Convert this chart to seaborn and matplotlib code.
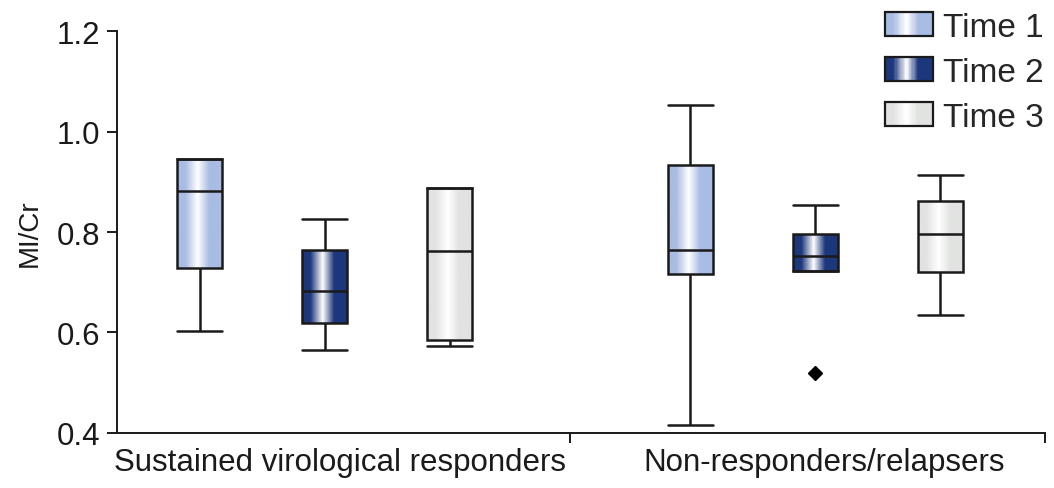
import matplotlib
matplotlib.use("Agg")
import matplotlib.pyplot as plt
from matplotlib.colors import LinearSegmentedColormap
from matplotlib.legend_handler import HandlerBase
from matplotlib.patches import Rectangle
from matplotlib.transforms import ScaledTranslation
import numpy as np
import pandas as pd
import seaborn as sns

# values (5 points per box: min, Q1, median, Q3, max)
groups = ["Sustained virological responders", "Non-responders/relapsers"]
times = ["Time 1", "Time 2", "Time 3"]
svr_t1 = [0.602, 0.728, 0.882, 0.945, 0.945]
svr_t2 = [0.566, 0.618, 0.683, 0.764, 0.825]
svr_t3 = [0.574, 0.586, 0.763, 0.888, 0.888]
nr_t1 = [0.416, 0.716, 0.764, 0.934, 1.053]
nr_t2 = [0.519, 0.723, 0.752, 0.797, 0.853]
nr_t3 = [0.634, 0.720, 0.797, 0.861, 0.913]
y_ticks = [0.4, 0.6, 0.8, 1.0, 1.2]

box_colors = ["#a9bce4", "#1d377c", "#e1e3e1"]

rows = []
for g, series in zip(groups, [[svr_t1, svr_t2, svr_t3], [nr_t1, nr_t2, nr_t3]]):
    for t, vals in zip(times, series):
        for v in vals:
            rows.append({"group": g, "time": t, "MI/Cr": v})
df = pd.DataFrame(rows)

sns.set_style("ticks")
plt.rcParams["font.family"] = ["Liberation Sans", "DejaVu Sans"]
ink = "#1a1a1a"

fig = plt.figure(figsize=(10.54, 4.89), dpi=100)
ax = fig.add_axes([0.111, 0.1125, 0.8805, 0.822])

sns.boxplot(data=df, x="group", y="MI/Cr", hue="time", hue_order=times,
            order=groups, palette=box_colors, width=0.765, gap=0.64,
            linecolor=ink, linewidth=1.8, legend=False, ax=ax,
            flierprops=dict(marker="D", markersize=7, markerfacecolor="black",
                            markeredgecolor="black"))


def make_cmap(c):
    return LinearSegmentedColormap.from_list(
        "g", [(0, c), (0.18, c), (0.45, "white"), (0.7, c), (1, c)])


cmaps = [make_cmap(c) for c in box_colors]
grad = np.linspace(0, 1, 200).reshape(1, -1)

# gradient fill inside each box
for i, cont in enumerate(ax.containers):
    w = None
    for box in cont.boxes:
        v = box.get_path().vertices
        x0, x1 = v[:, 0].min(), v[:, 0].max()
        y0, y1 = v[:, 1].min(), v[:, 1].max()
        w = x1 - x0
        im = ax.imshow(grad, cmap=cmaps[i], extent=[x0, x1, y0, y1],
                       aspect="auto", zorder=box.get_zorder() - 0.01,
                       interpolation="bilinear")
        im.set_clip_path(box)
        box.set_facecolor("none")
    for cap in cont.caps:
        c = np.asarray(cap.get_xdata(), dtype=float).mean()
        cap.set_xdata([c - w / 2, c + w / 2])

xmax = 1.469
ax.set_xlim(-0.424, xmax)
ax.set_ylim(0.4, 1.2)
ax.set_yticks(y_ticks)
ax.set_yticklabels([f"{t:.1f}" for t in y_ticks])
ax.set_xticks([0, 1])
ax.set_xticklabels(groups)
ax.set_xticks([0.5, xmax], minor=True)
ax.tick_params(axis="x", which="major", length=0, labelsize=22.5, pad=10,
               labelcolor=ink)
ax.tick_params(axis="x", which="minor", length=7, width=1.4, direction="out",
               color=ink)
ax.tick_params(axis="y", length=7, width=1.4, labelsize=22.5, color=ink,
               labelcolor=ink, pad=5)
# nudge the group labels slightly right, as in the original
for lbl, dx in zip(ax.get_xticklabels(), [15, 9]):
    lbl.set_transform(lbl.get_transform() + ScaledTranslation(dx / 100, 0, fig.dpi_scale_trans))
ax.set_xlabel("")
ax.set_ylabel("MI/Cr", fontsize=20, color=ink, labelpad=10)
sns.despine(ax=ax)
for s in ["left", "bottom"]:
    ax.spines[s].set_linewidth(1.4)
    ax.spines[s].set_color(ink)


class GradientHandler(HandlerBase):
    def __init__(self, cmap):
        super().__init__()
        self.cmap = cmap

    def create_artists(self, legend, orig_handle, xdescent, ydescent,
                       width, height, fontsize, trans):
        arts = []
        n = 40
        for k in range(n):
            r = Rectangle((-xdescent + width * k / n, -ydescent), width / n + 0.3,
                          height, facecolor=self.cmap((k + 0.5) / n),
                          edgecolor="none", transform=trans)
            arts.append(r)
        arts.append(Rectangle((-xdescent, -ydescent), width, height,
                              facecolor="none", edgecolor=ink,
                              linewidth=1.6, transform=trans))
        return arts


handles = [Rectangle((0, 0), 1, 1) for _ in times]
fig.legend(handles, times, loc="upper right", bbox_to_anchor=(1.006, 1.008),
           frameon=False, fontsize=24, handlelength=1.45, handleheight=0.75,
           handletextpad=0.3, labelspacing=0.42, borderpad=0,
           handler_map={h: GradientHandler(cm) for h, cm in zip(handles, cmaps)})

fig.savefig("out.png", dpi=100)
